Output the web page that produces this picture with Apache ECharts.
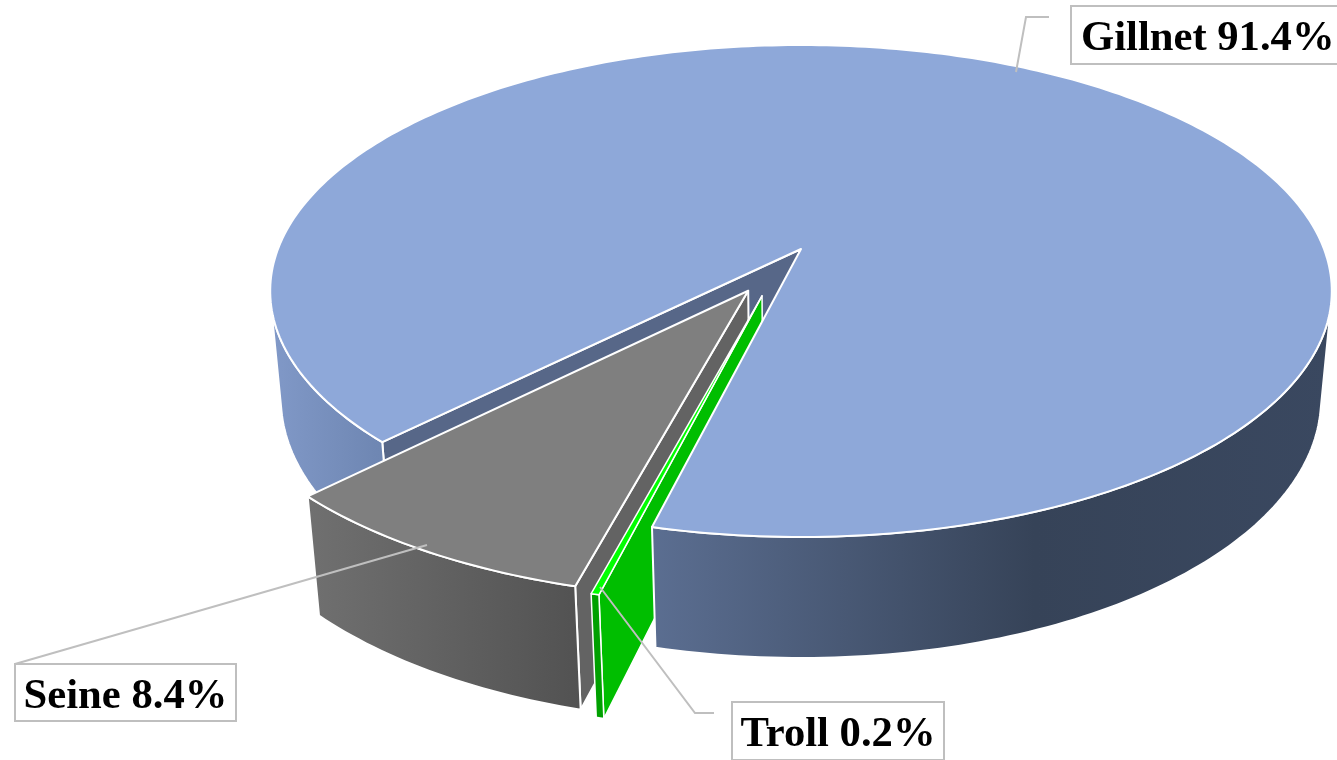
<!DOCTYPE html>
<html>
<head>
<meta charset="utf-8">
<title>Gear share</title>
<script src="https://cdn.jsdelivr.net/npm/echarts@6/dist/echarts.min.js"></script>
<style>
html, body { margin: 0; padding: 0; background: #fff; }
#main { width: 1337px; height: 760px; }
</style>
</head>
<body>
<div id="main"></div>
<script>
var gears = ['Gillnet', 'Seine', 'Troll'];
var shares = [91.4, 8.4, 0.2];

// pie view: angles are degrees from the front of the pie, going anticlockwise
var firstAngle = -13.75;
var explodeDist = [0, 0.196, 0.203];
var explodeDir = [0, -30, -20.8];

// perspective of the tilted disc
var view = { cx: 801, cy: 249, a: 523, b: 238.8, k: 0.1707, m: 0.02, h: 108.6 };

var chart = echarts.init(document.getElementById('main'), null, { renderer: 'canvas' });

var gillnetRim = new echarts.graphic.LinearGradient(270, 0, 1332, 0, [
    { offset: 0, color: '#8199c8' },
    { offset: 0.1, color: '#6f87b3' },
    { offset: 0.36, color: '#5b6e91' },
    { offset: 0.72, color: '#364358' },
    { offset: 1, color: '#3a4860' }
], true);
var seineRim = new echarts.graphic.LinearGradient(308, 0, 580, 0, [
    { offset: 0, color: '#707070' },
    { offset: 1, color: '#525252' }
], true);

var looks = [
    { top: '#8ea8d9', rim: gillnetRim, face: '#576788', edge: 2 },
    { top: '#7f7f7f', rim: seineRim, face: '#636363', edge: 2 },
    { top: '#00ff00', rim: '#00a000', face: '#00be00', edge: 1.5 }
];

// paint order of the faces, slice by slice
var layers = [
    { face: 1, rim: 4, top: 9 },
    { face: 2, rim: 5, top: 6 },
    { face: 3, rim: 7, top: 8 }
];

var boxes = [
    { x: 1071, y: 6, w: 268, h: 58, line: [[1016, 72], [1026, 17], [1049, 17]] },
    { x: 15, y: 664, w: 221, h: 57, line: [[427, 545], [15, 664]] },
    { x: 732, y: 702, w: 212, h: 58, line: [[600, 587], [695, 713], [714, 713]] }
];

function project(u, v, z) {
    var w = 1 + view.k * v + view.m * z;
    return [view.cx + view.a * u / w, view.cy - (view.b * v - view.h * z) / w];
}

function onDisc(deg, off, z) {
    var t = deg * Math.PI / 180;
    return project(off[0] + Math.sin(t), off[1] - Math.cos(t), z);
}

function arc(from, to, off, z) {
    var pts = [];
    var n = Math.max(2, Math.ceil(Math.abs(to - from)));
    for (var i = 0; i <= n; i++) {
        pts.push(onDisc(from + (to - from) * i / n, off, z));
    }
    return pts;
}

// true where the outer wall at this angle looks towards the viewer
function wallFacing(deg, off) {
    var p = onDisc(deg, off, 0);
    var q = onDisc(deg + 0.1, off, 0);
    var b = onDisc(deg, off, 1);
    return (q[0] - p[0]) * (b[1] - p[1]) - (q[1] - p[1]) * (b[0] - p[0]) > 0;
}

function wallRuns(from, to, off) {
    var runs = [], start = null, step = 0.1;
    for (var d = from; d <= to; d += step) {
        if (wallFacing(d, off)) {
            if (start === null) start = d;
        } else if (start !== null) {
            runs.push([start, d]);
            start = null;
        }
    }
    if (start !== null) runs.push([start, to]);
    return runs;
}

function poly(points, fill, z2, edge) {
    return {
        type: 'polygon',
        z2: z2,
        shape: { points: points },
        style: { fill: fill, stroke: '#ffffff', lineWidth: edge, lineJoin: 'round' }
    };
}

function sliceAngles(index) {
    var total = shares.reduce(function (s, v) { return s + v; }, 0);
    var start = firstAngle;
    for (var i = 0; i < index; i++) {
        start += shares[i] / total * 360;
    }
    return [start, start + shares[index] / total * 360];
}

function renderItem(params, api) {
    var i = params.dataIndex;
    var span = sliceAngles(i);
    var from = span[0], to = span[1];
    var look = looks[i];
    var layer = layers[i];
    var d = explodeDir[i] * Math.PI / 180;
    var off = [explodeDist[i] * Math.sin(d), -explodeDist[i] * Math.cos(d)];
    var apexTop = project(off[0], off[1], 0);
    var apexBot = project(off[0], off[1], 1);
    var topArc = arc(from, to, off, 0);
    var kids = [];
    var box = boxes[i];

    // cut wall on the far end of the slice, the one turned towards the viewer
    kids.push(poly([apexTop, onDisc(to, off, 0), onDisc(to, off, 1), apexBot], look.face, layer.face, look.edge));

    wallRuns(from, to, off).forEach(function (run) {
        var upper = arc(run[0], run[1], off, 0);
        var lower = arc(run[0], run[1], off, 1);
        kids.push(poly(upper.concat(lower.reverse()), look.rim, layer.rim, look.edge));
    });

    kids.push(poly([apexTop].concat(topArc), look.top, layer.top, look.edge));

    kids.push({
        type: 'polyline',
        z2: 20,
        shape: { points: box.line },
        style: { fill: null, stroke: '#bfbfbf', lineWidth: 2 }
    });
    kids.push({
        type: 'rect',
        z2: 21,
        shape: { x: box.x, y: box.y, width: box.w, height: box.h },
        style: { fill: '#ffffff', stroke: '#bfbfbf', lineWidth: 2 }
    });
    kids.push({
        type: 'text',
        z2: 22,
        style: {
            x: i === 0 ? box.x + 10 : box.x + box.w / 2,
            y: box.y + box.h / 2 + 4,
            text: gears[i] + ' ' + api.value(0).toFixed(1) + '%',
            font: 'bold 42.67px "Liberation Serif", "Times New Roman", serif',
            fill: '#000000',
            align: i === 0 ? 'left' : 'center',
            verticalAlign: 'middle'
        }
    });

    return { type: 'group', children: kids };
}

chart.setOption({
    animation: false,
    backgroundColor: '#ffffff',
    series: [{
        type: 'custom',
        coordinateSystem: 'none',
        silent: true,
        renderItem: renderItem,
        data: shares.map(function (v) { return [v]; })
    }]
});
</script>
</body>
</html>
